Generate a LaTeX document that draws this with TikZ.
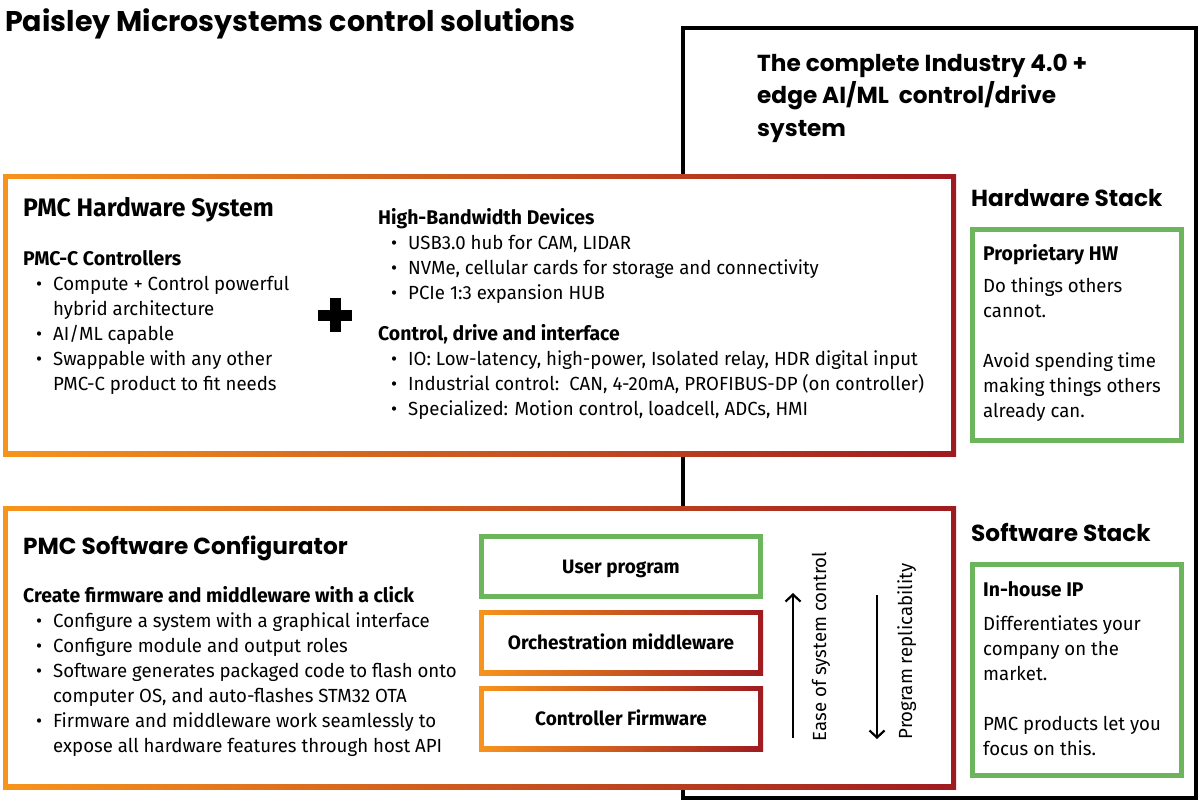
\documentclass[tikz,border=0pt]{standalone}
\usepackage{fontspec}
\setmainfont{Fira Sans}[FakeStretch=0.98]
\newfontfamily\headf{Poppins}
\usetikzlibrary{arrows.meta}
\definecolor{gOr}{RGB}{247,148,29}
\definecolor{gRd}{RGB}{158,27,32}
\definecolor{gGr}{RGB}{108,181,92}
\newcommand{\pmcb}[1]{\makebox[30pt][l]{\hspace{13pt}\textbullet}#1}
\newcommand{\pmcc}[1]{\hspace{30pt}#1}
\tikzset{
  gradbox/.style={inner sep=0pt, fill=white, path picture={
    \shade[left color=gOr,right color=gRd] (path picture bounding box.south west) rectangle (path picture bounding box.north east);
    \fill[white] ([shift={(5pt,5pt)}]path picture bounding box.south west) rectangle ([shift={(-5pt,-5pt)}]path picture bounding box.north east);}},
  greenbox/.style={draw=gGr, line width=5pt, fill=white, inner sep=0pt},
  body/.style={font=\fontsize{19}{25}\selectfont, inner sep=0pt, anchor=base west, align=left},
  sub/.style={font=\fontsize{19.8}{25}\selectfont\bfseries, inner sep=0pt, anchor=base west},
  head/.style={font=\headf\bfseries\fontsize{23.2}{32.5}\selectfont, inner sep=0pt, anchor=base west, align=left},
  lbl/.style={font=\fontsize{19.4}{25}\selectfont\bfseries, text height=13pt, text depth=0pt},
  arr/.style={line width=2.2pt, -{Straight Barb[length=7pt,width=15pt,line width=2.2pt]}},
  rot/.style={font=\fontsize{19}{25}\selectfont, inner sep=0pt, rotate=90, anchor=base}
}
\begin{document}
\begin{tikzpicture}[x=1pt,y=-1pt]
\useasboundingbox[fill=white] (0,0) rectangle (1200,804);
% outer black frame
\node[draw=black, line width=4.5pt, minimum width=513pt, minimum height=770pt, inner sep=0pt] (frame) at (939.5,413) {};
% title
\node[font=\headf\bfseries\fontsize{28.5}{34}\selectfont, inner sep=0pt, anchor=base west] (title) at (5,31) {Paisley Microsystems control solutions};
\node[head] (sys) at (757,136) {The complete Industry 4.0 +\\edge AI/ML\ \ control/drive\\system};
% hardware
\node[gradbox, minimum width=953pt, minimum height=282pt] (hw) at (479.5,315) {};
\node[sub, font=\fontsize{25.3}{28}\selectfont\bfseries] (hwt) at (23,216.5) {PMC Hardware System};
\node[sub] (pmcc) at (23,265) {PMC-C Controllers};
\node[body] (pmcl) at (23,390) {\pmcb{Compute + Control powerful}\\\pmcc{hybrid architecture}\\\pmcb{AI/ML capable}\\\pmcb{Swappable with any other}\\\pmcc{PMC-C product to fit needs}};
\fill (329.5,298) rectangle (340.5,332);
\fill (318,309.5) rectangle (352,320.5);
\node[sub] (hbd) at (378,224) {High-Bandwidth Devices};
\node[body] (hbdl) at (378,299) {\pmcb{USB3.0 hub for CAM, LIDAR}\\\pmcb{NVMe, cellular cards for storage and connectivity}\\\pmcb{PCIe 1:3 expansion HUB}};
\node[sub] (cdi) at (378,340) {Control, drive and interface};
\node[body] (cdil) at (378,415) {\pmcb{IO: Low-latency, high-power, Isolated relay, HDR digital input}\\\pmcb{Industrial control:\ \ CAN, 4-20mA, PROFIBUS-DP (on controller)}\\\pmcb{Specialized: Motion control, loadcell, ADCs, HMI}};
% software
\node[gradbox, minimum width=953pt, minimum height=283pt] (sw) at (479.5,647.5) {};
\node[head] (swt) at (23,554) {PMC Software Configurator};
\node[sub] (cfm) at (23,602) {Create firmware and middleware with a click};
\node[body] (cfml) at (23,752.5) {\pmcb{Configure a system with a graphical interface}\\\pmcb{Configure module and output roles}\\\pmcb{Software generates packaged code to flash onto}\\\pmcc{computer OS, and auto-flashes STM32 OTA}\\\pmcb{Firmware and middleware work seamlessly to}\\\pmcc{expose all hardware features through host API}};
\node[greenbox, lbl, minimum width=279pt, minimum height=60pt] (user) at (621,566.5) {User program};
\node[gradbox, lbl, minimum width=284pt, minimum height=65pt] (orch) at (621,642.5) {Orchestration middleware};
\node[gradbox, lbl, minimum width=284pt, minimum height=65pt] (ctrl) at (621,718.5) {Controller Firmware};
\coordinate (upS) at (793,738);
\coordinate (upE) at (793,593);
\coordinate (dnS) at (877,595);
\coordinate (dnE) at (877,739);
\draw[arr] (upS) -- (upE);
\draw[arr] (dnS) -- (dnE);
\node[rot] (ease) at (826,646.5) {Ease of system control};
\node[rot] (repl) at (912,651.5) {Program replicability};
% stacks
\node[head] (hws) at (971,206.5) {Hardware Stack};
\node[greenbox, minimum width=209pt, minimum height=211pt] (hwg) at (1077,335) {};
\node[sub] (phw) at (983,260.5) {Proprietary HW};
\node[body] (phwl) at (983,417.5) {Do things others\\cannot.\\[25pt]Avoid spending time\\making things others\\already can.};
\node[head] (sws) at (971,541.5) {Software Stack};
\node[greenbox, minimum width=209pt, minimum height=211pt] (swg) at (1077,670) {};
\node[sub] (ihip) at (983,596.5) {In-house IP};
\node[body] (ihipl) at (983,755) {Differentiates your\\company on the\\market.\\[25pt]PMC products let you\\focus on this.};
\end{tikzpicture}
\end{document}
